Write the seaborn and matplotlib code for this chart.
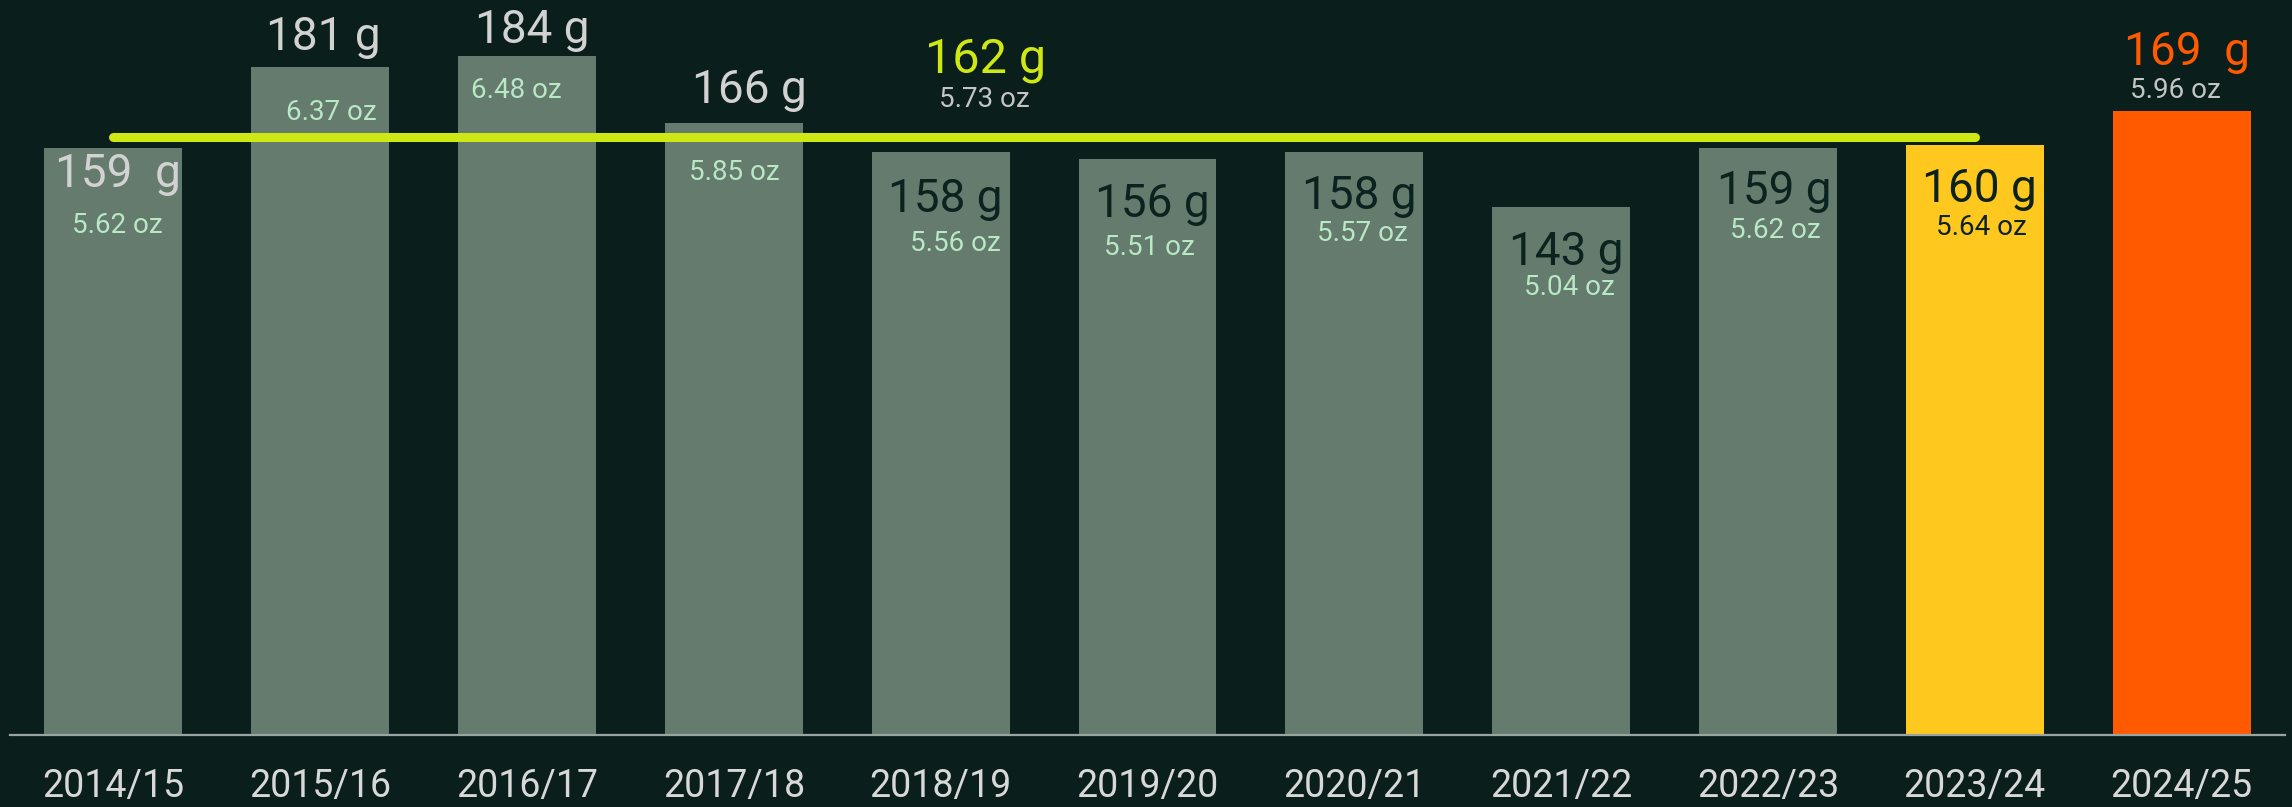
import matplotlib
matplotlib.use("Agg")
import matplotlib.pyplot as plt
import seaborn as sns
import pandas as pd

# Season weights (grams) and their ounce equivalents
seasons = ["2014/15", "2015/16", "2016/17", "2017/18", "2018/19", "2019/20",
           "2020/21", "2021/22", "2022/23", "2023/24", "2024/25"]
grams = [159, 181, 184, 166, 158, 156, 158, 143, 159, 160, 169]
ounces = [5.62, 6.37, 6.48, 5.85, 5.56, 5.51, 5.57, 5.04, 5.62, 5.64, 5.96]
gram_labels = ["159  g", "181 g", "184 g", "166 g", "158 g", "156 g",
               "158 g", "143 g", "159 g", "160 g", "169  g"]

average_g = 162
average_oz = 5.73

# Colours
BG = "#0a1f1c"
BAR = "#647b6e"
YELLOW = "#ffc81e"
ORANGE = "#ff5a00"
LIME = "#cfe814"
LIGHT = "#d2d2d2"
PALE = "#b8e8c4"
DARK = "#0c221e"
GREY = "#c4c4c4"

bar_colors = [BAR] * 9 + [YELLOW, ORANGE]
g_colors = [LIGHT, LIGHT, LIGHT, LIGHT, DARK, DARK, DARK, DARK, DARK, DARK, ORANGE]
oz_colors = [PALE] * 9 + [DARK, GREY]

# Label placement relative to the top-centre of each bar (pixels, y downward)
g_offsets = [(5, 39), (3, -17), (5, -13), (16, -20), (5, 60), (5, 58),
             (5, 57), (5, 58), (6, 56), (5, 57), (5, -46)]
oz_offsets = [(4, 85), (11, 53), (-11, 42), (0, 58), (15, 99), (2, 96),
              (8, 89), (8, 88), (7, 90), (7, 90), (-6, -13)]

sns.set_theme(style="white")
plt.rcParams["font.family"] = ["Roboto", "DejaVu Sans"]

df = pd.DataFrame({"season": seasons, "grams": grams})

fig = plt.figure(figsize=(22.92, 8.07), dpi=100, facecolor=BG)
ax = fig.add_axes([10 / 2292, 72 / 807, 2275 / 2292, 735 / 807])
ax.set_facecolor(BG)

sns.barplot(data=df, x="season", y="grams", hue="season", palette=bar_colors,
            width=0.667, saturation=1, legend=False, ax=ax, zorder=2,
            linewidth=0, edgecolor="none")

ax.set_xlim(-0.5, len(seasons) - 0.5)
ax.set_ylim(0, 199.2)

# Average line across the earlier seasons
ax.plot([0, 9], [average_g, average_g], color=LIME, lw=6.5,
        solid_capstyle="round", zorder=3)

for i, (g, oz) in enumerate(zip(grams, ounces)):
    dx, dy = g_offsets[i]
    ax.annotate(gram_labels[i], xy=(i, g), xytext=(dx, -dy),
                textcoords="offset pixels", ha="center", va="baseline",
                fontsize=33, color=g_colors[i], zorder=4)
    dx, dy = oz_offsets[i]
    ax.annotate(f"{oz:.2f} oz", xy=(i, g), xytext=(dx, -dy),
                textcoords="offset pixels", ha="center", va="baseline",
                fontsize=20, color=oz_colors[i], zorder=4)

# Average label
ax.annotate(f"{average_g} g", xy=(4, average_g), xytext=(45, 65),
            textcoords="offset pixels", ha="center", va="baseline",
            fontsize=35, color=LIME, zorder=4)
ax.annotate(f"{average_oz:.2f} oz", xy=(4, average_g), xytext=(44, 30),
            textcoords="offset pixels", ha="center", va="baseline",
            fontsize=20, color=GREY, zorder=4)

for side in ["top", "right", "left"]:
    ax.spines[side].set_visible(False)
ax.spines["bottom"].set_color("#9aa39f")
ax.spines["bottom"].set_linewidth(1.6)
ax.set_yticks([])
ax.set_xlabel("")
ax.set_ylabel("")
ax.tick_params(axis="x", length=0, pad=24, labelsize=27, labelcolor="#d8d8d8")

fig.savefig("out.png", dpi=100, facecolor=BG)
